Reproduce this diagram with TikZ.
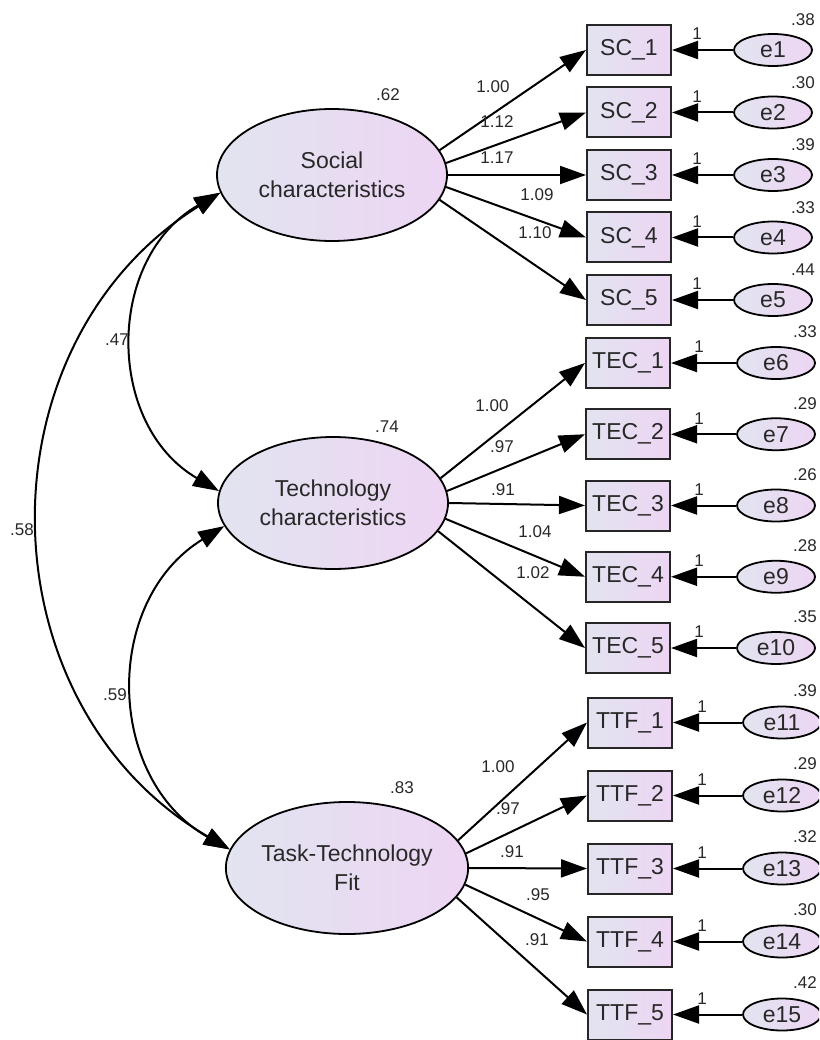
\documentclass[tikz,border=0pt]{standalone}
\usepackage{fontspec}
\setmainfont{Liberation Sans}
\usetikzlibrary{shapes.geometric,arrows.meta}

\definecolor{fillL}{RGB}{226,228,240}
\definecolor{fillR}{RGB}{237,213,243}
\definecolor{ink}{RGB}{40,40,40}

\begin{document}
\begin{tikzpicture}[x=1pt,y=-1pt,
  latent/.style={ellipse, draw=black, line width=1.8pt, left color=fillL, right color=fillR,
    minimum width=230pt, minimum height=132pt, inner sep=0pt, align=center,
    font=\fontsize{23}{29}\selectfont, text=ink},
  indicator/.style={rectangle, draw=black!85, line width=2pt, left color=fillL, right color=fillR,
    minimum width=84pt, minimum height=50pt, inner sep=0pt,
    font=\fontsize{23}{27}\selectfont, text=ink},
  err/.style={ellipse, draw=black, line width=1.8pt, left color=fillL, right color=fillR,
    minimum width=78pt, minimum height=32pt, inner sep=0pt,
    font=\fontsize{23}{27}\selectfont, text=ink},
  num/.style={font=\fontsize{17}{20}\selectfont, text=ink, inner sep=0pt},
  regpath/.style={line width=2pt, -{Triangle[length=26pt,width=18pt]}},
  cov/.style={line width=2pt, {Triangle[length=26pt,width=18pt]}-{Triangle[length=26pt,width=18pt]}},
]
\useasboundingbox (0,0) rectangle (819,1040);
\clip (0,0) rectangle (819,1040);

% latent factors
\node[latent] (SC)  at (332,175) {Social\\characteristics};
\node[latent] (TEC) at (333,503) {Technology\\characteristics};
\node[latent] (TTF) at (347,868) {Task-Technology\\Fit};

\node[num] (vSC)  at (388,95)  {.62};
\node[num] (vTEC) at (387,427) {.74};
\node[num] (vTTF) at (402,788) {.83};

% covariances between the factors
\draw[cov] (SC.189) to[bend right=60, looseness=1.13] (TEC.174);
\draw[cov] (TEC.192) to[bend right=59.5, looseness=1.13] (TTF.171);
\draw[cov] (SC.189) to[bend right=58.8, looseness=1.12] (TTF.171);
\node[num] (c1) at (117,340) {.47};
\node[num] (c2) at (22,530)  {.58};
\node[num] (c3) at (115,695) {.59};

% indicators with their error terms
\foreach \i/\y/\v in {1/50/.38, 2/112.5/.30, 3/175/.39, 4/237.5/.33, 5/300/.44} {
  \node[indicator] (SC_\i) at (629,\y) {SC\_\i};
  \node[err] (e\i) at (773,\y) {e\i};
  \draw[regpath] (e\i.west) -- (SC_\i.east);
  \node[num] (one\i) at (697,\y-16) {1};
  \node[num] (ve\i) at (803,\y-30) {\v};
}
\foreach \i/\y/\v [evaluate=\i as \k using int(\i+5)] in {1/363/.33, 2/434.25/.29, 3/505.5/.26, 4/576.75/.28, 5/648/.35} {
  \node[indicator] (TEC_\i) at (628,\y) {TEC\_\i};
  \node[err] (e\k) at (776,\y) {e\k};
  \draw[regpath] (e\k.west) -- (TEC_\i.east);
  \node[num] (one\k) at (699,\y-16) {1};
  \node[num] (ve\k) at (805,\y-31) {\v};
}
\foreach \i/\y/\v [evaluate=\i as \k using int(\i+10)] in {1/722.5/.39, 2/795.5/.29, 3/868.5/.32, 4/941.5/.30, 5/1014.5/.42} {
  \node[indicator] (TTF_\i) at (630,\y) {TTF\_\i};
  \node[err] (e\k) at (782,\y) {e\k};
  \draw[regpath] (e\k.west) -- (TTF_\i.east);
  \node[num] (one\k) at (702,\y-16) {1};
  \node[num] (ve\k) at (805,\y-32) {\v};
}

% factor loadings
\draw[regpath] (SC.13)  -- (SC_1.west);
\draw[regpath] (SC.6.5) -- (SC_2.west);
\draw[regpath] (SC.0)   -- (SC_3.west);
\draw[regpath] (SC.-6.5) -- (SC_4.west);
\draw[regpath] (SC.-13) -- (SC_5.west);
\node[num] (lSC1) at (493,87)  {1.00};
\node[num] (lSC2) at (497,122) {1.12};
\node[num] (lSC3) at (497,158) {1.17};
\node[num] (lSC4) at (537,195) {1.09};
\node[num] (lSC5) at (535,233) {1.10};

\draw[regpath] (TEC.13)  -- (TEC_1.west);
\draw[regpath] (TEC.6)   -- (TEC_2.west);
\draw[regpath] (TEC.0)   -- (TEC_3.west);
\draw[regpath] (TEC.-8.5) -- (TEC_4.west);
\draw[regpath] (TEC.-15.5) -- (TEC_5.west);
\node[num] (lTEC1) at (492,406) {1.00};
\node[num] (lTEC2) at (502,447) {.97};
\node[num] (lTEC3) at (503,490) {.91};
\node[num] (lTEC4) at (535,532) {1.04};
\node[num] (lTEC5) at (533,573) {1.02};

\draw[regpath] (TTF.14.5) -- (TTF_1.west);
\draw[regpath] (TTF.7.5)  -- (TTF_2.west);
\draw[regpath] (TTF.0)    -- (TTF_3.west);
\draw[regpath] (TTF.-8.5) -- (TTF_4.west);
\draw[regpath] (TTF.-15)  -- (TTF_5.west);
\node[num] (lTTF1) at (498,767) {1.00};
\node[num] (lTTF2) at (508,809) {.97};
\node[num] (lTTF3) at (512,852) {.91};
\node[num] (lTTF4) at (538,895) {.95};
\node[num] (lTTF5) at (537,940) {.91};
\end{tikzpicture}
\end{document}
